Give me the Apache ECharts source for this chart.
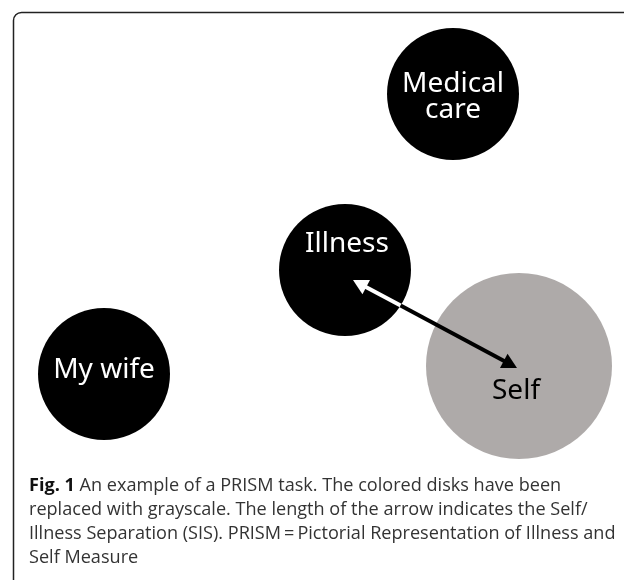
<!DOCTYPE html>
<html>
<head>
<meta charset="utf-8">
<script src="https://cdn.jsdelivr.net/npm/echarts@6/dist/echarts.min.js"></script>
<style>
html,body{margin:0;padding:0;background:#fff;}
#c{width:624px;height:580px;}
</style>
</head>
<body>
<div id="c"></div>
<script>
// ---- data (board coordinates, 1 unit = 1 px of the 624x580 board) ----
var diskNames = ['Medical\ncare', 'Illness', 'My wife', 'Self'];
var diskX = [453, 345, 104, 519];
var diskY = [94, 270, 374, 366];
var diskDiameter = [132, 132, 132, 186];
// arrow (Self/Illness Separation): from point near Illness centre to point near Self centre
var arrowFrom = [353, 280];
var arrowTo = [517, 368];
var captionLines = [
  'An example of a PRISM task. The colored disks have been',
  'replaced with grayscale. The length of the arrow indicates the Self/',
  'Illness Separation (SIS). PRISM\u2009=\u2009Pictorial Representation of Illness and',
  'Self Measure'
];

// ---- styles ----
var diskColor = {'Medical\ncare': '#000', 'Illness': '#000', 'My wife': '#000', 'Self': '#aeaaa9'};
var labelColor = {'Medical\ncare': '#fff', 'Illness': '#fff', 'My wife': '#fff', 'Self': '#000'};
var labelOffset = {'Medical\ncare': [0, 3], 'Illness': [2, -26], 'My wife': [0, -4], 'Self': [-3, 25]};

var diskData = diskNames.map(function (n, i) {
  return {
    name: n,
    value: [diskX[i], diskY[i], diskDiameter[i]],
    itemStyle: {color: diskColor[n], opacity: 1},
    label: {color: labelColor[n], offset: labelOffset[n]}
  };
});

var chart = echarts.init(document.getElementById('c'), null, {renderer: 'canvas'});

var illIdx = diskNames.indexOf('Illness');

chart.setOption({
  animation: false,
  backgroundColor: '#fff',
  grid: {left: 0, right: 0, top: 0, bottom: 0},
  xAxis: {type: 'value', min: 0, max: 624, show: false},
  yAxis: {type: 'value', min: 0, max: 580, inverse: true, show: false},
  series: [
    {
      type: 'scatter',
      symbol: 'circle',
      symbolSize: function (v) { return v[2]; },
      data: diskData,
      z: 2,
      itemStyle: {opacity: 1},
      label: {
        show: true,
        position: 'inside',
        formatter: function (p) { return p.name; },
        fontFamily: 'Noto Sans',
        fontSize: 28,
        lineHeight: 26,
        opacity: 1
      },
      emphasis: {disabled: true}
    },
    {
      type: 'custom',
      z: 5,
      data: [[arrowFrom[0], arrowFrom[1], arrowTo[0], arrowTo[1]]],
      encode: {x: [0, 2], y: [1, 3]},
      renderItem: function (params, api) {
        var p1 = api.coord([api.value(0), api.value(1)]);
        var p2 = api.coord([api.value(2), api.value(3)]);
        var c = api.coord([diskX[illIdx], diskY[illIdx]]);
        var edge = api.coord([diskX[illIdx] + diskDiameter[illIdx] / 2, diskY[illIdx]]);
        var r = edge[0] - c[0];
        var dx = p2[0] - p1[0], dy = p2[1] - p1[1];
        var L = Math.sqrt(dx * dx + dy * dy);
        var ux = dx / L, uy = dy / L;
        var fx = p1[0] - c[0], fy = p1[1] - c[1];
        var b = fx * ux + fy * uy;
        var cc = fx * fx + fy * fy - r * r;
        var t = -b + Math.sqrt(Math.max(0, b * b - cc));
        var bx = p1[0] + ux * t, by = p1[1] + uy * t;
        var hl = 15, hw = 8, lw = 4;
        var nx = -uy, ny = ux;
        function head(tip, dir) {
          var bxh = tip[0] - dir[0] * hl, byh = tip[1] - dir[1] * hl;
          return [[tip[0], tip[1]], [bxh + nx * hw, byh + ny * hw], [bxh - nx * hw, byh - ny * hw]];
        }
        return {
          type: 'group',
          children: [
            {type: 'line', shape: {x1: p1[0] + ux * (hl - 2), y1: p1[1] + uy * (hl - 2), x2: bx, y2: by},
              style: {stroke: '#fff', lineWidth: lw}},
            {type: 'line', shape: {x1: bx, y1: by, x2: p2[0] - ux * (hl - 2), y2: p2[1] - uy * (hl - 2)},
              style: {stroke: '#000', lineWidth: lw}},
            {type: 'polygon', shape: {points: head(p1, [-ux, -uy])}, style: {fill: '#fff'}},
            {type: 'polygon', shape: {points: head(p2, [ux, uy])}, style: {fill: '#000'}}
          ]
        };
      }
    }
  ],
  graphic: [
    {
      type: 'rect',
      shape: {x: 13.5, y: 12.5, width: 800, height: 800, r: 8},
      style: {fill: null, stroke: '#222', lineWidth: 1.5},
      silent: true,
      z: 10
    },
    {
      type: 'text',
      x: 29,
      y: 474,
      z: 10,
      style: {
        text: '{b|Fig. 1} ' + captionLines.join('\n'),
        fontFamily: 'Open Sans',
        fontSize: 18.1,
        lineHeight: 24,
        fill: '#333',
        rich: {
          b: {fontFamily: 'Open Sans', fontWeight: 'bold', fontSize: 18.1, lineHeight: 24, fill: '#111'}
        }
      }
    }
  ]
});
</script>
</body>
</html>
